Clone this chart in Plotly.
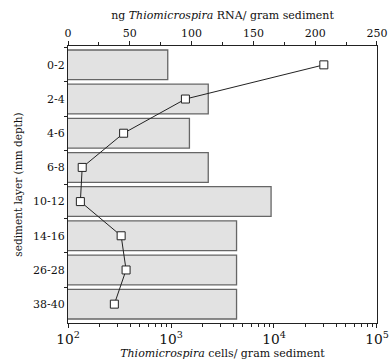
import plotly.graph_objects as go

layers = ["0-2", "2-4", "4-6", "6-8", "10-12", "14-16", "26-28", "38-40"]
cells = [930, 2300, 1510, 2300, 9370, 4330, 4330, 4330]
rna = [207, 95, 45, 11.5, 10, 43, 47, 37.5]

font_family = "DejaVu Serif"

fig = go.Figure()
fig.add_trace(go.Bar(
    y=layers, x=cells, orientation="h", width=0.87,
    marker=dict(color="#e2e2e2", line=dict(color="#666666", width=1.3)),
    xaxis="x", yaxis="y", showlegend=False,
))
fig.add_trace(go.Scatter(
    y=layers, x=rna, mode="lines+markers",
    line=dict(color="#222222", width=1),
    marker=dict(symbol="square", size=8, color="white", line=dict(color="#222222", width=1)),
    xaxis="x2", yaxis="y", showlegend=False,
))

fig.update_layout(
    width=389, height=360,
    margin=dict(l=68, r=12, t=46, b=37, autoexpand=False),
    paper_bgcolor="white", plot_bgcolor="white",
    font=dict(family=font_family, size=11, color="#111111"),
    xaxis=dict(
        type="log", range=[2, 5.0001], dtick=1, exponentformat="power",
        ticklabeloverflow="allow", automargin=False,
        showline=True, linecolor="#222222", linewidth=1.2,
        ticks="outside", ticklen=4, tickcolor="#222222",
        minor=dict(ticks="outside", ticklen=2.5, dtick="D1", tickcolor="#222222"),
        showgrid=False, zeroline=False,
        title=dict(text="<i>Thiomicrospira</i> cells/ gram sediment", font=dict(size=11), standoff=5),
        tickfont=dict(size=11),
    ),
    xaxis2=dict(
        overlaying="x", side="top", range=[0, 250.01], dtick=50,
        ticklabeloverflow="allow", automargin=False,
        showline=True, linecolor="#222222", linewidth=1.2,
        ticks="outside", ticklen=4, tickcolor="#222222",
        minor=dict(ticks="outside", ticklen=3, dtick=25, tickcolor="#222222"),
        showgrid=False, zeroline=False,
        title=dict(text="ng <i>Thiomicrospira</i> RNA/ gram sediment", font=dict(size=11), standoff=4),
        tickfont=dict(size=11),
    ),
    yaxis=dict(
        type="category", autorange="reversed", automargin=False,
        showline=True, mirror=True, linecolor="#222222", linewidth=1.2,
        ticks="outside", ticklen=3, tickson="boundaries", tickcolor="#222222",
        showgrid=False, zeroline=False,
        title=dict(text="sediment layer (mm depth)", font=dict(size=10.5), standoff=8),
        tickfont=dict(size=11),
    ),
    bargap=0.13,
)

fig.write_html("out.html")
